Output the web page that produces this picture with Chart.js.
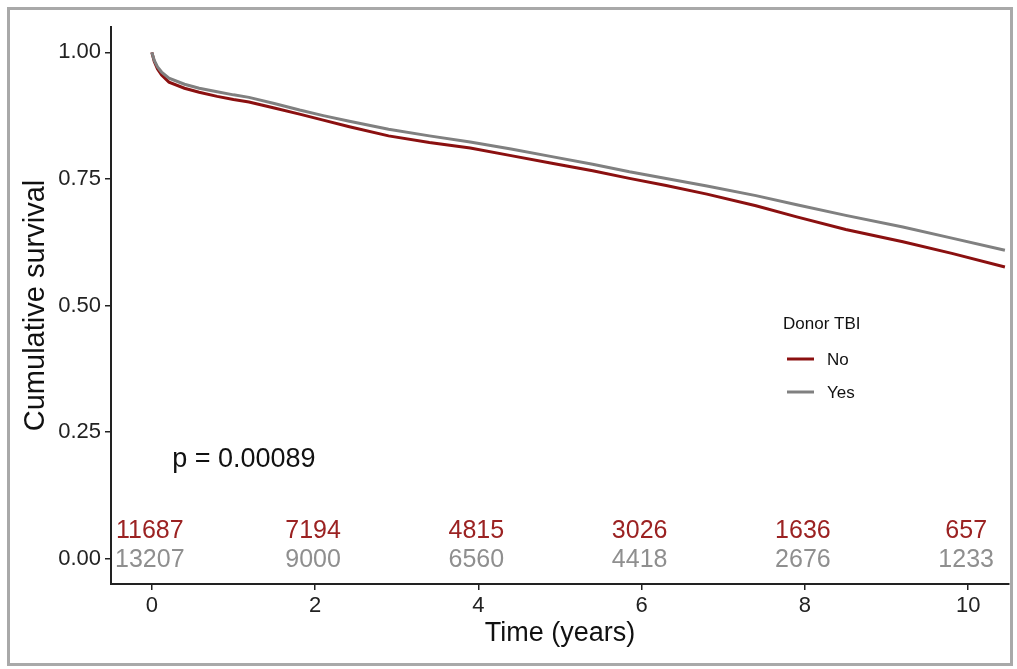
<!DOCTYPE html>
<html lang="en">
<head>
    <meta charset="UTF-8">
    <title>Cumulative survival by donor TBI</title>
    <style>
        body {
            margin: 0;
            padding: 0;
            background: #fff;
            font-family: "Liberation Sans", Arial, sans-serif;
        }
        .frame {
            position: absolute;
            left: 7px;
            top: 7px;
            width: 1000px;
            height: 653px;
            border: 3px solid #a9a9a9;
        }
        .chart-box {
            position: absolute;
            left: 0;
            top: 0;
            width: 1017px;
            height: 669px;
        }
    </style>
</head>
<body>
<div class="frame"></div>
<div class="chart-box">
    <canvas id="chart" width="1017" height="669"></canvas>
</div>

<script src="https://cdn.jsdelivr.net/npm/chart.js"></script>
<script>
    // time points (years)
    var times = [0, 0.03, 0.07, 0.12, 0.21, 0.4, 0.58, 0.8, 1.0, 1.19, 1.5, 1.81, 2.1, 2.42, 2.9, 3.4,
                 3.9, 4.4, 4.9, 5.4, 5.85, 6.3, 6.8, 7.4, 7.9, 8.5, 9.2, 9.8, 10.45];
    var survNo = [1.0, 0.982, 0.967, 0.955, 0.941, 0.929, 0.921, 0.913, 0.907, 0.902, 0.890, 0.878, 0.866, 0.853, 0.835, 0.822,
                  0.811, 0.796, 0.781, 0.766, 0.751, 0.737, 0.720, 0.697, 0.675, 0.650, 0.626, 0.603, 0.576];
    var survYes = [1.0, 0.984, 0.971, 0.961, 0.949, 0.937, 0.929, 0.922, 0.916, 0.911, 0.899, 0.886, 0.875, 0.864, 0.848, 0.835,
                   0.823, 0.809, 0.794, 0.779, 0.764, 0.751, 0.736, 0.717, 0.699, 0.678, 0.655, 0.633, 0.609];

    // numbers at risk
    var riskTimes = [0, 2, 4, 6, 8, 10];
    var riskNo = [11687, 7194, 4815, 3026, 1636, 657];
    var riskYes = [13207, 9000, 6560, 4418, 2676, 1233];

    var xTicks = [0, 2, 4, 6, 8, 10];
    var yTicks = [0, 0.25, 0.5, 0.75, 1];
    var pLabel = 'p = 0.00089';

    var colNo = '#8b1010';
    var colYes = '#808080';

    function toPoints(xs, ys) {
        return xs.map(function (x, i) { return {x: x, y: ys[i]}; });
    }

    var annotations = {
        id: 'annotations',
        afterDatasetsDraw: function (chart) {
            var ctx = chart.ctx;
            var xs = chart.scales.x, ys = chart.scales.y;
            ctx.save();
            // risk table inside the plot
            ctx.font = '25px "Liberation Sans", Arial, sans-serif';
            ctx.textAlign = 'center';
            ctx.textBaseline = 'middle';
            riskTimes.forEach(function (t, i) {
                var px = xs.getPixelForValue(t) - 2;
                ctx.fillStyle = '#9b2222';
                ctx.fillText(riskNo[i], px, ys.getPixelForValue(0.055));
                ctx.fillStyle = '#8f8f8f';
                ctx.fillText(riskYes[i], px, ys.getPixelForValue(-0.002));
            });
            // p-value
            ctx.fillStyle = '#111';
            ctx.font = '27px "Liberation Sans", Arial, sans-serif';
            ctx.textAlign = 'left';
            ctx.fillText(pLabel, xs.getPixelForValue(0.25), ys.getPixelForValue(0.195));
            // legend
            ctx.font = '17px "Liberation Sans", Arial, sans-serif';
            ctx.fillStyle = '#111';
            ctx.fillText('Donor TBI', 783, 324);
            chart.data.datasets.slice().reverse().forEach(function (ds, i) {
                var y = 359 + i * 33;
                ctx.strokeStyle = ds.borderColor;
                ctx.lineWidth = 3;
                ctx.beginPath();
                ctx.moveTo(787, y);
                ctx.lineTo(814, y);
                ctx.stroke();
                ctx.fillStyle = '#111';
                ctx.fillText(ds.label, 827, y + 1);
            });
            ctx.restore();
        }
    };

    var ctx = document.getElementById('chart').getContext('2d');
    new Chart(ctx, {
        type: 'line',
        data: {
            datasets: [{
                label: 'Yes',
                data: toPoints(times, survYes),
                borderColor: colYes,
                borderWidth: 3,
                pointRadius: 0,
                tension: 0,
                order: 0
            }, {
                label: 'No',
                data: toPoints(times, survNo),
                borderColor: colNo,
                borderWidth: 3,
                pointRadius: 0,
                tension: 0,
                order: 1
            }]
        },
        options: {
            responsive: false,
            animation: false,
            layout: {padding: {left: 0, top: 27, right: 8, bottom: 0}},
            plugins: {
                legend: {display: false},
                tooltip: {enabled: false}
            },
            scales: {
                x: {
                    type: 'linear',
                    min: -0.5,
                    max: 10.5,
                    afterBuildTicks: function (s) { s.ticks = xTicks.map(function (v) { return {value: v}; }); },
                    afterFit: function (s) { s.height = 85; },
                    grid: {drawOnChartArea: false, drawTicks: true, tickLength: 6, color: '#222', lineWidth: 1.5},
                    border: {display: true, color: '#222', width: 2},
                    ticks: {
                        color: '#222',
                        padding: 3,
                        maxRotation: 0,
                        font: {size: 22, family: '"Liberation Sans", Arial, sans-serif'}
                    },
                    title: {
                        display: true,
                        text: 'Time (years)',
                        color: '#111',
                        padding: {top: 0, bottom: 19},
                        font: {size: 27, family: '"Liberation Sans", Arial, sans-serif'}
                    }
                },
                y: {
                    min: -0.05,
                    max: 1.05,
                    afterBuildTicks: function (s) { s.ticks = yTicks.map(function (v) { return {value: v}; }); },
                    afterFit: function (s) { s.width = 111; },
                    grid: {drawOnChartArea: false, drawTicks: true, tickLength: 6, color: '#222', lineWidth: 1.5},
                    border: {display: true, color: '#222', width: 2},
                    ticks: {
                        color: '#222',
                        padding: 4,
                        font: {size: 22, family: '"Liberation Sans", Arial, sans-serif'},
                        callback: function (v) { return v.toFixed(2); }
                    },
                    title: {
                        display: true,
                        text: 'Cumulative survival',
                        color: '#111',
                        padding: {top: 19, bottom: 0},
                        font: {size: 29, family: '"Liberation Sans", Arial, sans-serif'}
                    }
                }
            }
        },
        plugins: [annotations]
    });
</script>
</body>
</html>
